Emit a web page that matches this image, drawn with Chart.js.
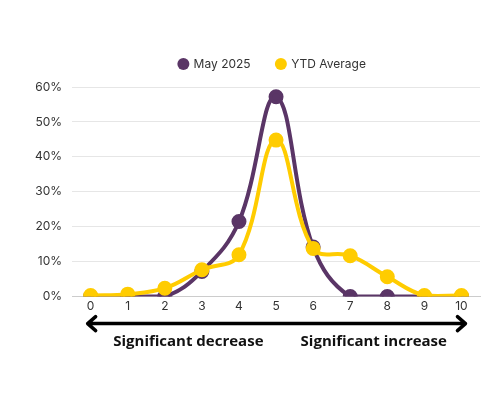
<!DOCTYPE html>
<html>
<head>
<meta charset="utf-8">
<script src="https://cdn.jsdelivr.net/npm/chart.js@4.4.1/dist/chart.umd.min.js"></script>
<style>
  html, body { margin: 0; padding: 0; background: #fff; }
  #wrap { width: 500px; height: 400px; }
</style>
</head>
<body>
<div id="wrap"><canvas id="lineChart"></canvas></div>
<script>
// Data
const categories = ['0', '1', '2', '3', '4', '5', '6', '7', '8', '9', '10'];
const may2025 = [0, 0, 0, 7.2, 21.5, 57.2, 14.2, 0, 0, 0, 0];
const ytdAverage = [0.3, 0.7, 2.4, 7.7, 12, 44.8, 13.8, 11.7, 5.7, 0.3, 0.3];
const yTicks = [0, 10, 20, 30, 40, 50, 60];
const arrowLabels = ['Significant decrease', 'Significant increase'];

const PURPLE = '#5a3566';
const YELLOW = '#ffcc00';

// Double arrow + captions under the x axis
const arrowPlugin = {
    id: 'scaleArrow',
    beforeInit(chart) {
        // more room between legend and plot
        const fit = chart.legend.fit;
        chart.legend.fit = function () {
            fit.call(this);
            this.height += 7;
        };
    },
    afterLayout(chart) {
        // centre the legend over the plot area rather than the canvas
        chart.legend.left += 40;
    },
    afterDraw(chart) {
        const x = chart.scales.x;
        const ctx = chart.ctx;
        const left = x.getPixelForValue(0) - 3;
        const right = x.getPixelForValue(categories.length - 1) + 4;
        const mid = x.getPixelForValue(5);
        const y = x.top + 27;
        ctx.save();
        ctx.strokeStyle = '#000';
        ctx.lineWidth = 3.5;
        ctx.lineCap = 'round';
        ctx.lineJoin = 'round';
        ctx.beginPath();
        ctx.moveTo(left, y);
        ctx.lineTo(right, y);
        ctx.moveTo(left + 8, y - 7);
        ctx.lineTo(left, y);
        ctx.lineTo(left + 8, y + 7);
        ctx.moveTo(right - 8, y - 7);
        ctx.lineTo(right, y);
        ctx.lineTo(right - 8, y + 7);
        ctx.stroke();
        ctx.fillStyle = '#111';
        ctx.font = "bold 15px 'Open Sans', sans-serif";
        ctx.textAlign = 'center';
        ctx.textBaseline = 'middle';
        ctx.fillText(arrowLabels[0], (x.getPixelForValue(0) + mid) / 2 + 5, y + 18);
        ctx.fillText(arrowLabels[1], (mid + x.getPixelForValue(10)) / 2 + 5, y + 18);
        ctx.restore();
    }
};

const data = {
    labels: categories,
    datasets: [
        {
            label: 'May 2025',
            data: may2025,
            borderColor: PURPLE,
            backgroundColor: PURPLE,
            borderWidth: 4,
            pointRadius: 5.5,
            pointHoverRadius: 5.5,
            tension: 0.4,
            order: 1
        },
        {
            label: 'YTD Average',
            data: ytdAverage,
            borderColor: YELLOW,
            backgroundColor: YELLOW,
            borderWidth: 4,
            pointRadius: 5.5,
            pointHoverRadius: 5.5,
            tension: 0.4,
            order: 0 // yellow drawn over purple
        }
    ]
};

const config = {
    type: 'line',
    data: data,
    plugins: [arrowPlugin],
    options: {
        responsive: true,
        maintainAspectRatio: false,
        animation: false,
        layout: {
            padding: { top: 32, bottom: 83, left: 25, right: 20 }
        },
        plugins: {
            legend: {
                position: 'top',
                labels: {
                    usePointStyle: true,
                    pointStyle: 'circle',
                    boxWidth: 8.5,
                    boxHeight: 8.5,
                    padding: 26,
                    color: '#333',
                    font: { size: 12, family: "Inter, sans-serif" },
                    sort: (a, b) => a.datasetIndex - b.datasetIndex,
                    generateLabels(chart) {
                        const items = Chart.defaults.plugins.legend.labels.generateLabels(chart);
                        items.forEach(it => { it.lineWidth = 0; });
                        return items;
                    }
                }
            },
            tooltip: { enabled: false }
        },
        scales: {
            x: {
                offset: true,
                grid: { display: false, drawTicks: false },
                border: { display: true, color: '#cccccc', width: 1 },
                ticks: {
                    padding: 3,
                    color: '#333',
                    font: { size: 12, family: "Inter, sans-serif" }
                }
            },
            y: {
                min: 0,
                max: 60,
                afterBuildTicks(axis) {
                    axis.ticks = yTicks.map(v => ({ value: v }));
                },
                grid: { color: '#e6e6e6', lineWidth: 1, drawTicks: false },
                border: { display: false },
                ticks: {
                    padding: 10,
                    color: '#333',
                    font: { size: 12, family: "Inter, sans-serif" },
                    callback: v => v + '%'
                }
            }
        }
    }
};

new Chart(document.getElementById('lineChart').getContext('2d'), config);
</script>
</body>
</html>
